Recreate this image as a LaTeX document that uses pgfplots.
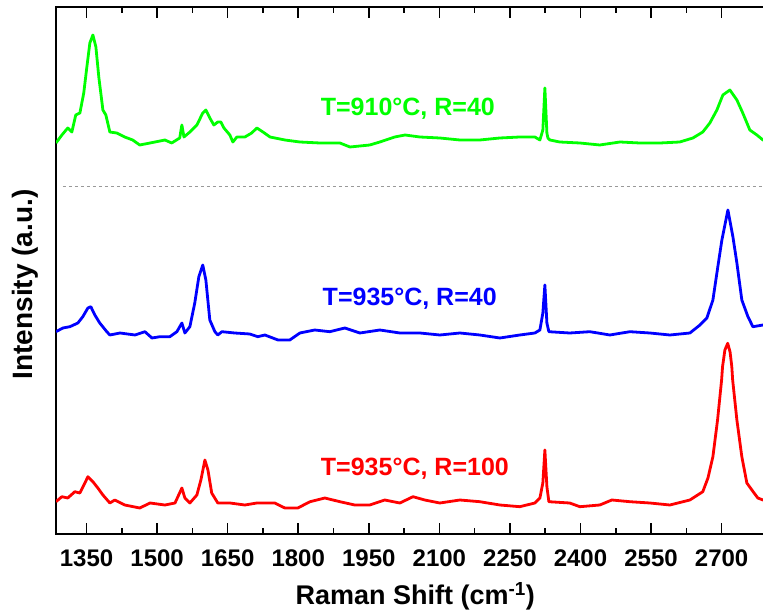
\documentclass[border=0pt]{standalone}
\usepackage{fontspec}
\setmainfont{Liberation Sans}
\usepackage{pgfplots}
\pgfplotsset{compat=1.18}

\definecolor{specgreen}{RGB}{0,255,0}
\definecolor{specblue}{RGB}{0,0,255}
\definecolor{specred}{RGB}{255,0,0}

\begin{document}
\begin{tikzpicture}
\useasboundingbox (-56bp,-82bp) rectangle (707bp,534bp);
\begin{axis}[
  at={(0,0)}, anchor=south west,
  scale only axis,
  width=710bp, height=527bp,
  xmin=1285, xmax=2794.4,
  ymin=0, ymax=527,
  xtick={1350,1500,...,2700},
  minor x tick num=1,
  ytick=\empty,
  tick align=inside,
  xtick pos=both,
  major tick length=11bp,
  minor tick length=6bp,
  every tick/.style={black, line width=1.6bp},
  axis line style={line width=2bp},
  /pgf/number format/assume math mode=true,
  /pgf/number format/1000 sep={},
  ticklabel style={font=\fontsize{24bp}{28bp}\selectfont\bfseries},
  xticklabel style={inner sep=0pt, anchor=north, yshift=-16bp},
  xlabel={Raman Shift (cm\textsuperscript{-1})},
  xlabel style={at={(axis description cs:0.506,-0.1347)}, anchor=base,
    inner sep=0pt, font=\fontsize{27bp}{31bp}\selectfont\bfseries},
  ylabel={Intensity (a.u.)},
  ylabel style={at={(axis description cs:-0.0437,0.4734)}, anchor=center,
    inner sep=0pt, font=\fontsize{28bp}{32bp}\selectfont\bfseries},
  every axis plot/.append style={line width=2.8bp, line join=round},
]

% separator between the top spectrum and the others
\addplot[gray!80, line width=0.8bp, dash pattern=on 3bp off 3bp]
coordinates {(1299.6,347.7) (2794.4,347.7)};

% T=910 C, R=40
\addplot[specgreen]
coordinates {
  (1285,391) (1297.5,399) (1310,406) (1318.7,402) (1327,419) (1335.8,421)
  (1344,441) (1350.6,467) (1357,491) (1363.4,499) (1369.8,487) (1376,457)
  (1384.7,424) (1391,419) (1399.5,402) (1414,401) (1431,397) (1448,394)
  (1463,389) (1485,391) (1516.5,394) (1531,391) (1548,396) (1552.6,409)
  (1557,397) (1569.6,402) (1584.5,409) (1597,421) (1603.6,424) (1612,416)
  (1620.6,409) (1629,412) (1635.5,412) (1642,406) (1654.6,399) (1661,392)
  (1669.5,397) (1686.5,397) (1701,401) (1712,406) (1725,402) (1740,397)
  (1771.6,394) (1803.5,392) (1846,391) (1888.5,391) (1910,387) (1952,389)
  (1973.5,392) (2005,397) (2027,399) (2058.6,397) (2101,396) (2143.6,394)
  (2186,394) (2228.6,396) (2271,397) (2303,397) (2313.7,394) (2320,404)
  (2324.3,446) (2328.6,401) (2330.7,396) (2335,394) (2356,392) (2398.7,391)
  (2441,389) (2484,392) (2526,391) (2569,391) (2611,392) (2639,396)
  (2660,402) (2675,411) (2690,424) (2702.7,439) (2717.6,444) (2732.5,434)
  (2745,421) (2760,404) (2775,399) (2788,394) (2794.4,393)
};

% T=935 C, R=40
\addplot[specblue]
coordinates {
  (1285,202.3) (1299.6,206) (1314.5,207.3) (1331.5,211) (1342,217.3)
  (1352.8,226) (1359,227.3) (1367.6,219) (1378,211) (1393,202.3) (1399.5,199)
  (1421,201) (1453,199) (1474,202.3) (1489,196) (1506,197.3) (1527,197.3)
  (1542,202.3) (1552.6,211) (1559,201) (1569.6,207.3) (1580,231)
  (1588.7,257.3) (1597,269) (1603.6,254) (1612,214) (1622.8,202.3)
  (1629,199) (1637.6,202.3) (1665,201) (1697,200) (1714,197.3) (1729,199)
  (1757,194) (1782,194) (1803.5,201) (1835,204) (1867,202.3) (1899,206)
  (1931,201) (1973.5,204) (2016,201) (2058.6,201) (2101,199) (2143.6,201)
  (2186,199) (2228.6,196) (2271,199) (2303,201) (2313.7,204) (2320,221)
  (2324.3,249) (2328.6,211) (2332.8,202.3) (2377,201) (2420,202.3)
  (2462.5,199) (2505,202.3) (2547.5,201) (2590,199) (2632.6,201) (2654,209)
  (2668.7,216) (2681.5,234) (2692,267.3) (2700.6,294) (2713.4,324)
  (2724,297.3) (2732.5,271) (2743,234) (2756,217.3) (2766.5,207.3)
  (2788,209) (2794.4,209)
};

% T=935 C, R=100
\addplot[specred]
coordinates {
  (1285,32.3) (1297.5,37.3) (1310,36) (1325,42.3) (1335.8,41) (1346.4,51)
  (1352.8,57.3) (1363.4,52.3) (1374,46) (1384.7,39) (1399.5,31) (1410,34)
  (1431,29) (1463,26) (1485,31) (1516.5,29) (1538,31) (1552.6,46) (1559,36)
  (1569.6,31) (1584.5,39) (1593,54) (1601.5,74) (1608,64) (1616,41)
  (1629,31) (1654.6,31) (1686.5,29) (1712,31) (1750,31) (1771.6,26)
  (1799,26) (1825,32.3) (1856.6,36) (1888.5,32.3) (1920,29) (1952,29)
  (1984,34) (2016,31) (2044,37.3) (2069,34) (2101,31) (2143.6,34)
  (2186,32.3) (2228.6,29) (2271,27.3) (2303,31) (2313.7,36) (2320,51)
  (2324.3,84) (2328.6,47.3) (2332.8,32.3) (2377,31) (2398.7,27.3) (2441,29)
  (2466.7,34) (2505,32.3) (2547.5,31) (2590,29) (2632.6,34) (2660,42.3)
  (2671,56) (2681.5,77.3) (2691.4,114) (2700,154) (2702,167.3) (2707,184)
  (2713,190.7) (2718,182) (2721.7,167.3) (2723.5,154) (2732.5,114)
  (2743,77.3) (2753.7,51) (2767,42.3) (2777,36) (2788,34) (2794.4,34)
};

\node[specgreen, anchor=base, inner sep=0pt,
  font=\fontsize{25bp}{29bp}\selectfont\bfseries]
  at (axis cs:2033,418) {T=910°C, R=40};
\node[specblue, anchor=base, inner sep=0pt,
  font=\fontsize{25bp}{29bp}\selectfont\bfseries]
  at (axis cs:2037,228) {T=935°C, R=40};
\node[specred, anchor=base, inner sep=0pt,
  font=\fontsize{25bp}{29bp}\selectfont\bfseries]
  at (axis cs:2048,59) {T=935°C, R=100};

\end{axis}
\end{tikzpicture}
\end{document}
